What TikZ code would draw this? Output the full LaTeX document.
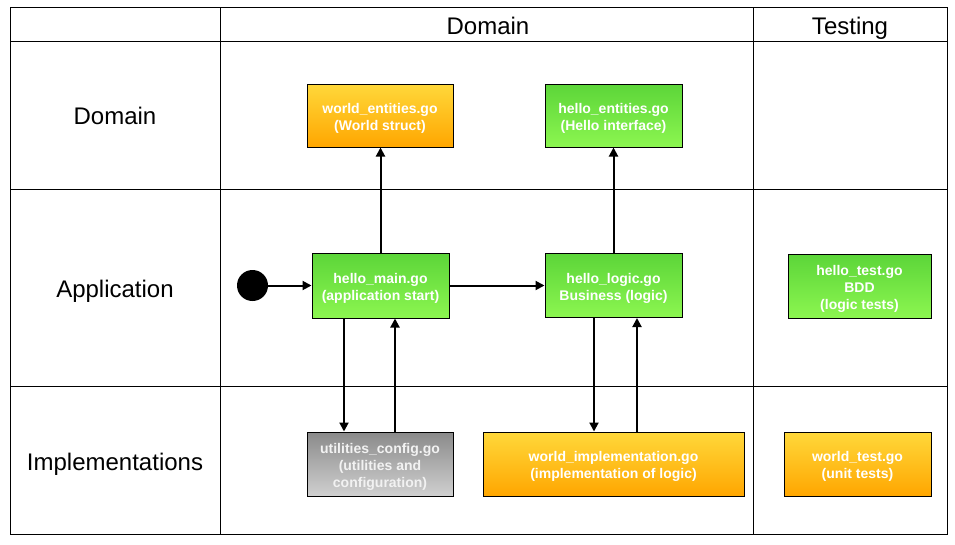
\documentclass[tikz,border=0pt]{standalone}
\usepackage{fontspec}
\setmainfont{Liberation Sans}
\usetikzlibrary{arrows.meta}
\newcommand{\firstline}{\rule{0pt}{15.5pt}}
\begin{document}
\begin{tikzpicture}[x=1pt,y=-1pt,
  grid/.style={draw=black,line width=1pt},
  hdr/.style={font=\fontsize{24}{28}\selectfont,text=black,anchor=base,inner sep=0pt},
  file/.style={draw=black,line width=1pt,align=center,text=white,
    font=\fontsize{14}{17}\selectfont\bfseries,inner sep=0pt},
  orange/.style={file,top color=orTop,bottom color=orBot},
  green/.style={file,top color=grTop,bottom color=grBot},
  grey/.style={file,top color=gyTop,bottom color=gyBot,text=gyText},
  arr/.style={line width=2pt,-{Triangle[length=9pt,width=9pt]}}]
\definecolor{orTop}{HTML}{FFD83A}
\definecolor{orBot}{HTML}{FFA600}
\definecolor{grTop}{HTML}{5CD539}
\definecolor{grBot}{HTML}{8CF650}
\definecolor{gyTop}{HTML}{8A8A8A}
\definecolor{gyBot}{HTML}{D0D0D0}
\definecolor{gyText}{HTML}{F2F2F2}
\useasboundingbox (0,0) rectangle (955,544);
\fill[white] (0,0) rectangle (955,544);

% swimlane grid
\draw[grid] (10,7) rectangle (947,534);
\draw[grid] (220,7) -- (220,534);
\draw[grid] (753,7) -- (753,534);
\draw[grid] (10,41) -- (947,41);
\draw[grid] (10,189) -- (947,189);
\draw[grid] (10,386) -- (947,386);

% lane headers
\node[hdr] (hDomain) at (488,34) {Domain};
\node[hdr] (hTesting) at (850,34) {Testing};
\node[hdr] (rDomain) at (115,124.5) {Domain};
\node[hdr] (rApp) at (115,297) {Application};
\node[hdr] (rImpl) at (115,470) {Implementations};

% files
\node[orange,minimum width=146pt,minimum height=63pt] (we) at (380,115.5)
  {\firstline world\_entities.go\\(World struct)};
\node[green,minimum width=137pt,minimum height=63pt] (he) at (613.5,115.5)
  {\firstline hello\_entities.go\\(Hello interface)};
\node[green,minimum width=137pt,minimum height=65pt] (hm) at (380.5,285.5)
  {\firstline hello\_main.go\\(application start)};
\node[green,minimum width=137pt,minimum height=64pt] (hl) at (613.5,285.5)
  {\firstline hello\_logic.go\\Business (logic)};
\node[green,minimum width=143pt,minimum height=64pt] (ht) at (859.5,286)
  {\firstline hello\_test.go\\BDD\\(logic tests)};
\node[grey,minimum width=146pt,minimum height=64pt] (uc) at (380,464)
  {\firstline utilities\_config.go\\(utilities and\\configuration)};
\node[orange,minimum width=261pt,minimum height=64pt] (wi) at (613.5,464)
  {\firstline world\_implementation.go\\(implementation of logic)};
\node[orange,minimum width=147pt,minimum height=64pt] (wt) at (857.5,464)
  {\firstline world\_test.go\\(unit tests)};

% start point
\node[circle,fill=black,minimum size=31pt,inner sep=0pt] (start) at (252.5,285.5) {};

% connector columns
\coordinate (xa) at (344,0);
\coordinate (xb) at (395,0);
\coordinate (xc) at (594,0);
\coordinate (xd) at (637,0);

\draw[arr] (start.east) -- (hm.west |- start.east);
\draw[arr] (hm.east) -- (hl.west |- hm.east);
\draw[arr] (hm.north) -- (hm.north |- we.south);
\draw[arr] (hl.north) -- (hl.north |- he.south);
\draw[arr] (hm.south -| xa) -- (uc.north -| xa);
\draw[arr] (uc.north -| xb) -- (hm.south -| xb);
\draw[arr] (hl.south -| xc) -- (wi.north -| xc);
\draw[arr] (wi.north -| xd) -- (hl.south -| xd);
\end{tikzpicture}
\end{document}
